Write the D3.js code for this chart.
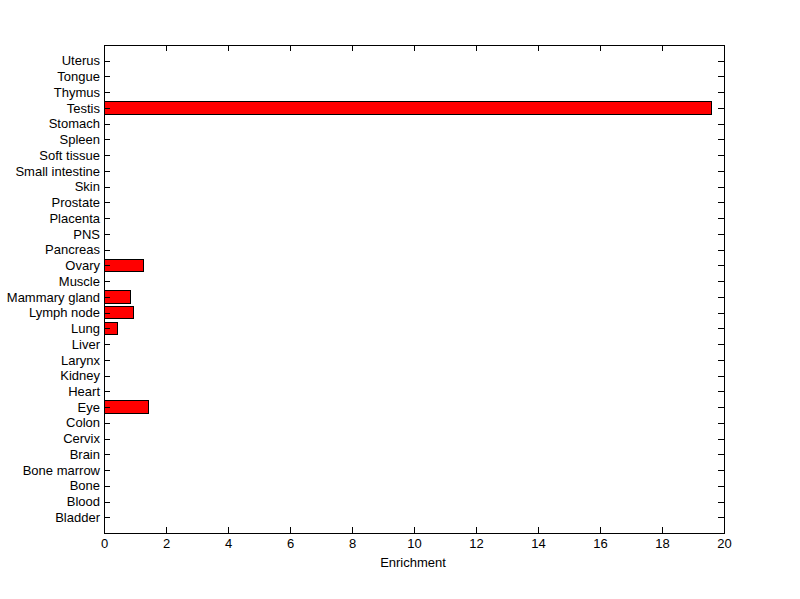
<!DOCTYPE html>
<html>
<head>
<meta charset="utf-8">
<script src="https://cdn.jsdelivr.net/npm/d3@7"></script>
<style>
body { margin: 0; background: #fff; }
text { font-family: "Liberation Sans", Arial, sans-serif; }
</style>
</head>
<body>
<div id="viz"></div>
<script>
// tissues, bottom to top
var tissues = ["Bladder", "Blood", "Bone", "Bone marrow", "Brain", "Cervix", "Colon", "Eye",
    "Heart", "Kidney", "Larynx", "Liver", "Lung", "Lymph node", "Mammary gland", "Muscle",
    "Ovary", "Pancreas", "PNS", "Placenta", "Prostate", "Skin", "Small intestine",
    "Soft tissue", "Spleen", "Stomach", "Testis", "Thymus", "Tongue", "Uterus"];
var enrichment = [0, 0, 0, 0, 0, 0, 0, 1.43,
    0, 0, 0, 0, 0.43, 0.94, 0.85, 0,
    1.27, 0, 0, 0, 0, 0, 0,
    0, 0, 0, 19.6, 0, 0, 0];
var xTicks = [0, 2, 4, 6, 8, 10, 12, 14, 16, 18, 20];

var W = 800, H = 599;
var pLeft = 104, pRight = 724, pTop = 45, pBottom = 533;
var fs = "13px";

var svg = d3.select("#viz")
    .append("svg")
    .attr("width", W)
    .attr("height", H)
    .attr("shape-rendering", "crispEdges");

var x = d3.scaleLinear().domain([0, 20]).range([pLeft, pRight]);
var y = d3.scaleLinear().domain([0, tissues.length + 1]).range([pBottom, pTop]);

var data = tissues.map(function (t, i) { return {name: t, v: enrichment[i], pos: i + 1}; });

// bars
svg.selectAll("rect.bar")
    .data(data.filter(function (d) { return d.v > 0; }))
    .enter()
    .append("rect")
    .attr("class", "bar")
    .attr("x", x(0))
    .attr("y", function (d) { return y(d.pos + 0.4); })
    .attr("width", function (d) { return x(d.v) - x(0); })
    .attr("height", function (d) { return y(d.pos - 0.4) - y(d.pos + 0.4); })
    .attr("fill", "#ff0000")
    .attr("stroke", "#000")
    .attr("stroke-width", 1);

// axes (ticks inside, like matlab)
var tk = 6;
var axB = svg.append("g").attr("transform", "translate(0," + pBottom + ")")
    .call(d3.axisBottom(x).tickValues(xTicks).tickSizeInner(-tk).tickSizeOuter(0));
var axT = svg.append("g").attr("transform", "translate(0," + pTop + ")")
    .call(d3.axisTop(x).tickValues(xTicks).tickSizeInner(-tk).tickSizeOuter(0).tickFormat(""));
var axL = svg.append("g").attr("transform", "translate(" + pLeft + ",0)")
    .call(d3.axisLeft(y).tickValues(data.map(function (d) { return d.pos; }))
        .tickFormat(function (p) { return tissues[p - 1]; })
        .tickSizeInner(-tk).tickSizeOuter(0));
var axR = svg.append("g").attr("transform", "translate(" + pRight + ",0)")
    .call(d3.axisRight(y).tickValues(data.map(function (d) { return d.pos; }))
        .tickSizeInner(-tk).tickSizeOuter(0).tickFormat(""));

[axB, axT, axL, axR].forEach(function (a) {
    a.select(".domain").remove();
    a.selectAll("line").attr("stroke", "#000");
    a.selectAll("text").attr("fill", "#000").style("font-size", fs)
        .style("font-family", "'Liberation Sans', Arial, sans-serif");
});
// left labels sit just outside the box
axL.selectAll("text").attr("x", -4);
axB.selectAll("text").attr("y", 6);

// box
svg.append("rect")
    .attr("x", pLeft).attr("y", pTop)
    .attr("width", pRight - pLeft).attr("height", pBottom - pTop)
    .attr("fill", "none").attr("stroke", "#000").attr("stroke-width", 1);

svg.append("text")
    .attr("x", (pLeft + pRight) / 2 - 1)
    .attr("y", 567)
    .attr("text-anchor", "middle")
    .style("font-size", fs)
    .text("Enrichment");
</script>
</body>
</html>
